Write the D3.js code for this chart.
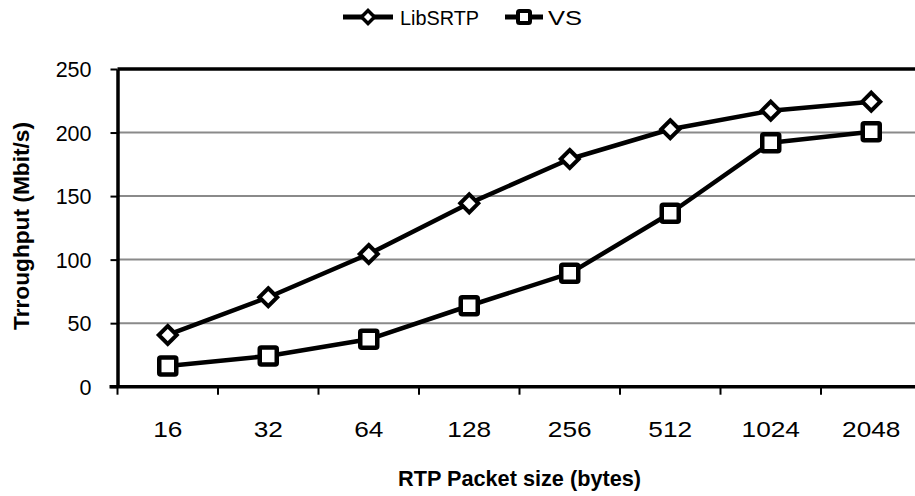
<!DOCTYPE html>
<html>
<head>
<meta charset="utf-8">
<script src="https://cdn.jsdelivr.net/npm/d3@7"></script>
<style>
  html, body { margin: 0; padding: 0; background: #fff; }
  svg { display: block; }
  text { font-family: "Liberation Sans", Arial, sans-serif; fill: #000; }
</style>
</head>
<body>
<svg id="chart" width="915" height="496"></svg>
<script>
const categories = ["16", "32", "64", "128", "256", "512", "1024", "2048"];
const seriesNames = ["LibSRTP", "VS"];
const libsrtpValues = [40.7, 70.4, 104.4, 144.3, 179.2, 202.6, 217.2, 224.3];
const vsValues = [16.3, 24.2, 37.3, 63.7, 89.2, 136.5, 192.0, 200.7];
const yTickValues = [0, 50, 100, 150, 200, 250];
const xTitle = "RTP Packet size (bytes)";
const yTitle = "Trroughput (Mbit/s)";

const svg = d3.select("#chart");
const plotLeft = 117.5, plotRight = 921.5, plotTop = 69, plotBottom = 386.7;

const x = d3.scaleBand().domain(categories).range([plotLeft, plotRight]).padding(0);
const xc = c => x(c) + x.bandwidth() / 2;
const y = d3.scaleLinear().domain([0, 250]).range([plotBottom, plotTop]);

// gridlines
svg.append("g").selectAll("line")
  .data(yTickValues.filter(v => v > 0))
  .join("line")
  .attr("x1", plotLeft).attr("x2", 915)
  .attr("y1", d => y(d)).attr("y2", d => y(d))
  .attr("stroke", d => d === 250 ? "#000" : "#8a8a8a")
  .attr("stroke-width", d => d === 250 ? 3.5 : 2);

// y axis
const yAxis = svg.append("g")
  .attr("transform", `translate(${plotLeft},0)`)
  .call(d3.axisLeft(y).tickValues(yTickValues).tickSize(7).tickPadding(19).tickSizeOuter(0));
yAxis.select(".domain").attr("stroke", "#000").attr("stroke-width", 3.5);
yAxis.selectAll(".tick line").attr("stroke", "#000").attr("stroke-width", 2);
yAxis.selectAll(".tick text")
  .style("font-family", "'Liberation Sans', Arial, sans-serif")
  .style("font-size", "21.5px").attr("dy", "0.36em");

// x axis (labels at centres, ticks at boundaries as in Excel)
const xAxis = svg.append("g")
  .attr("transform", `translate(0,${plotBottom})`)
  .call(d3.axisBottom(x).tickSize(0).tickPadding(0).tickSizeOuter(0));
xAxis.select(".domain").attr("stroke", "#000").attr("stroke-width", 3.5)
  .attr("d", `M${plotLeft - 8},0H915`);
xAxis.selectAll(".tick text")
  .style("font-family", "'Liberation Sans', Arial, sans-serif")
  .style("font-size", "22px")
  .attr("textLength", d => String(d).length * 14.6)
  .attr("lengthAdjust", "spacingAndGlyphs")
  .attr("y", 50).attr("dy", 0);
xAxis.append("g").selectAll("line")
  .data(categories.map(c => x(c)).concat([plotRight]))
  .join("line")
  .attr("x1", d => d).attr("x2", d => d)
  .attr("y1", 0).attr("y2", 8)
  .attr("stroke", "#000").attr("stroke-width", 2);

// axis titles
svg.append("text")
  .attr("x", 398).attr("y", 486)
  .attr("textLength", 243).attr("lengthAdjust", "spacingAndGlyphs")
  .style("font-size", "21.5px").style("font-weight", "bold")
  .text(xTitle);
svg.append("text")
  .attr("transform", "translate(29,226) rotate(-90)")
  .attr("text-anchor", "middle")
  .attr("textLength", 208).attr("lengthAdjust", "spacingAndGlyphs")
  .style("font-size", "21.5px").style("font-weight", "bold")
  .text(yTitle);

// series
const series = [
  { name: seriesNames[0], values: libsrtpValues, shape: "diamond" },
  { name: seriesNames[1], values: vsValues, shape: "square" }
];
const line = d3.line().x((d, i) => xc(categories[i])).y(d => y(d));

function drawMarker(g, shape, cx, cy, s, sw) {
  if (shape === "diamond") {
    g.append("path")
      .attr("d", `M${cx},${cy - s}L${cx + s},${cy}L${cx},${cy + s}L${cx - s},${cy}Z`)
      .attr("fill", "#fff").attr("stroke", "#000").attr("stroke-width", sw)
      .attr("stroke-linejoin", "miter");
  } else {
    g.append("rect")
      .attr("x", cx - s).attr("y", cy - s).attr("width", 2 * s).attr("height", 2 * s)
      .attr("rx", 1.5)
      .attr("fill", "#fff").attr("stroke", "#000").attr("stroke-width", sw);
  }
}

series.forEach(s => {
  svg.append("path")
    .datum(s.values)
    .attr("d", line)
    .attr("fill", "none").attr("stroke", "#000").attr("stroke-width", 4.5)
    .attr("stroke-linejoin", "round");
  const g = svg.append("g");
  s.values.forEach((v, i) => {
    if (s.shape === "diamond") drawMarker(g, "diamond", xc(categories[i]), y(v), 9, 4);
    else drawMarker(g, "square", xc(categories[i]), y(v), 8.5, 4.5);
  });
});

// legend
const legendItems = [
  { name: seriesNames[0], shape: "diamond", x1: 343, x2: 393, tx: 400, tw: 79 },
  { name: seriesNames[1], shape: "square", x1: 505, x2: 543, tx: 548, tw: 34 }
];
const lg = svg.append("g");
legendItems.forEach(it => {
  lg.append("line").attr("x1", it.x1).attr("x2", it.x2).attr("y1", 17).attr("y2", 17)
    .attr("stroke", "#000").attr("stroke-width", 5);
  if (it.shape === "diamond") drawMarker(lg, "diamond", (it.x1 + it.x2) / 2, 17, 6.5, 3.5);
  else drawMarker(lg, "square", (it.x1 + it.x2) / 2, 17, 6, 4);
  lg.append("text").attr("x", it.tx).attr("y", 24.5)
    .attr("textLength", it.tw).attr("lengthAdjust", "spacingAndGlyphs")
    .style("font-size", "20px").text(it.name);
});
</script>
</body>
</html>
